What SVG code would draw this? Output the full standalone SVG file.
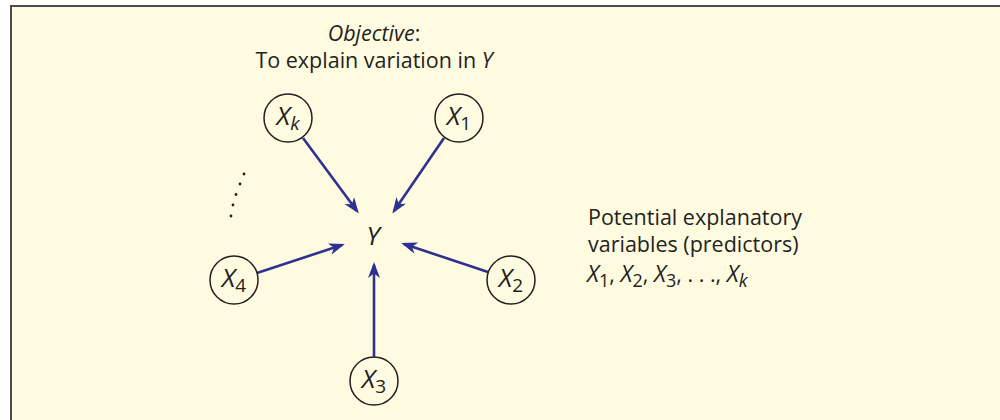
<svg xmlns="http://www.w3.org/2000/svg" width="1000" height="420" viewBox="0 0 1000 420">
<style>
.t{font-family:"Open Sans","Noto Sans",sans-serif;font-size:21.5px;fill:#231f20}
.v{font-family:"Open Sans","Noto Sans",sans-serif;font-size:26px;font-style:italic;fill:#231f20}
.s{font-size:19px;font-style:normal}
.si{font-size:19px;font-style:italic}
.ls{font-size:18px;font-style:normal}
.node circle{fill:none;stroke:#231f20;stroke-width:1.5}
.conn line{stroke:#2e3192;stroke-width:2.6}
</style>
<defs>
<marker id="ah" markerUnits="userSpaceOnUse" markerWidth="18" markerHeight="14" refX="13" refY="6" orient="auto">
<path d="M0,0 L16,6 L0,12 L4.5,6 Z" fill="#2e3192"/>
</marker>
</defs>
<rect x="0" y="0" width="1000" height="420" fill="#ffffff"/>
<rect x="11" y="6" width="995" height="420" fill="#fffbe0" stroke="#4d4d4d" stroke-width="2"/>
<g id="title">
<text class="t" x="374" y="41" text-anchor="middle"><tspan font-style="italic">Objective</tspan>:</text>
<text class="t" x="374" y="68" text-anchor="middle" font-size="22.5">To explain variation in <tspan font-style="italic">Y</tspan></text>
</g>
<g class="conn" id="connectors">
<line x1="303" y1="138" x2="357" y2="211" marker-end="url(#ah)"/>
<line x1="444" y1="138" x2="394" y2="211" marker-end="url(#ah)"/>
<line x1="257" y1="273" x2="342" y2="245" marker-end="url(#ah)"/>
<line x1="488" y1="272" x2="404" y2="244" marker-end="url(#ah)"/>
<line x1="374" y1="357" x2="374" y2="265" marker-end="url(#ah)"/>
</g>
<g id="Y"><text class="v" x="373" y="245" text-anchor="middle" font-size="21">Y</text></g>
<g class="node" id="Xk"><circle cx="288" cy="118" r="24"/><text class="v" x="288" y="125" text-anchor="middle">X<tspan class="si" dy="5">k</tspan></text></g>
<g class="node" id="X1"><circle cx="459" cy="118" r="24"/><text class="v" x="459" y="125" text-anchor="middle">X<tspan class="s" dy="5">1</tspan></text></g>
<g class="node" id="X4"><circle cx="234" cy="280" r="24"/><text class="v" x="234" y="287" text-anchor="middle">X<tspan class="s" dy="5">4</tspan></text></g>
<g class="node" id="X2"><circle cx="511" cy="280" r="24"/><text class="v" x="511" y="287" text-anchor="middle">X<tspan class="s" dy="5">2</tspan></text></g>
<g class="node" id="X3"><circle cx="374" cy="381" r="24"/><text class="v" x="374" y="388" text-anchor="middle">X<tspan class="s" dy="5">3</tspan></text></g>
<g id="ellipsis" fill="#231f20">
<circle cx="244" cy="174" r="1.4"/>
<circle cx="240" cy="184" r="1.4"/>
<circle cx="236" cy="194.5" r="1.4"/>
<circle cx="233" cy="205" r="1.4"/>
<circle cx="231" cy="216" r="1.4"/>
</g>
<g id="legend">
<text class="t" x="588" y="225">Potential explanatory</text>
<text class="t" x="588" y="252">variables (predictors)</text>
<text class="t" x="587" y="282"><tspan font-style="italic" font-size="23">X</tspan><tspan class="ls" dy="5">1</tspan><tspan dy="-5">, </tspan><tspan font-style="italic" font-size="23">X</tspan><tspan class="ls" dy="5">2</tspan><tspan dy="-5">, </tspan><tspan font-style="italic" font-size="23">X</tspan><tspan class="ls" dy="5">3</tspan><tspan dy="-5">, . . ., </tspan><tspan font-style="italic" font-size="23">X</tspan><tspan class="ls" style="font-style:italic" dy="5">k</tspan></text>
</g>
</svg>
